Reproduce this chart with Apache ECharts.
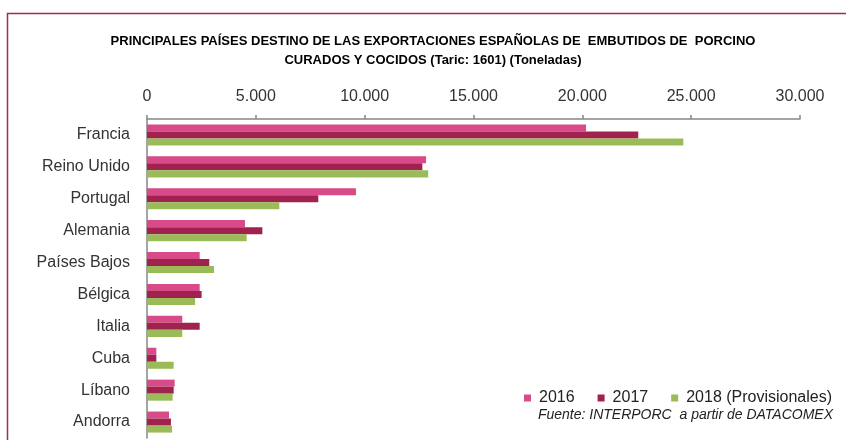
<!DOCTYPE html>
<html>
<head>
<meta charset="utf-8">
<script src="https://cdn.jsdelivr.net/npm/echarts@6/dist/echarts.min.js"></script>
<style>
  html, body { margin: 0; padding: 0; background: #fff; }
  #chart { width: 846px; height: 440px; }
</style>
</head>
<body>
<div id="chart"></div>
<script>
// Export destinations (tonnes), top to bottom
const countries = ['Francia', 'Reino Unido', 'Portugal', 'Alemania', 'Países Bajos', 'Bélgica', 'Italia', 'Cuba', 'Líbano', 'Andorra'];
const years = ['2016', '2017', '2018 (Provisionales)'];
const values2016 = [20170, 12820, 9600, 4500, 2420, 2420, 1620, 430, 1270, 1010];
const values2017 = [22570, 12650, 7870, 5300, 2860, 2510, 2420, 430, 1225, 1100];
const values2018 = [24640, 12920, 6080, 4580, 3080, 2210, 1620, 1225, 1180, 1150];
const colors = ['#D94A88', '#A0234F', '#9BBB59'];

const titleLines = [
  'PRINCIPALES PAÍSES DESTINO DE LAS EXPORTACIONES ESPAÑOLAS DE  EMBUTIDOS DE  PORCINO',
  'CURADOS Y COCIDOS (Taric: 1601) (Toneladas)'
];
const sourceText = 'Fuente: INTERPORC  a partir de DATACOMEX';

const fmt = v => String(v).replace(/\B(?=(\d{3})+(?!\d))/g, '.');
const font = '"Liberation Sans", Arial, sans-serif';

const chart = echarts.init(document.getElementById('chart'), null, { renderer: 'canvas' });

chart.setOption({
  animation: false,
  backgroundColor: '#fff',
  textStyle: { fontFamily: font },
  title: [
    {
      text: sourceText,
      right: 13,
      top: 408,
      padding: 0,
      textStyle: { fontSize: 14, fontStyle: 'italic', fontWeight: 'normal', color: '#222', fontFamily: font }
    }
  ],
  legend: {
    data: years,
    left: 519,
    top: 385,
    itemWidth: 7,
    itemHeight: 7,
    itemGap: 23,
    icon: 'rect',
    textStyle: { fontSize: 16, color: '#222', fontFamily: font, padding: [0, 0, 0, 3] }
  },
  grid: { left: 147, right: 46, top: 119, bottom: 2, containLabel: false },
  xAxis: {
    type: 'value',
    position: 'top',
    min: 0,
    max: 30000,
    interval: 5000,
    axisLine: { show: true, lineStyle: { color: '#868686', width: 1.5 } },
    axisTick: { show: true, length: 4, lineStyle: { color: '#868686', width: 1.5 } },
    axisLabel: { margin: 14, fontSize: 16, color: '#333', fontFamily: font, formatter: fmt },
    splitLine: { show: false }
  },
  yAxis: {
    type: 'category',
    data: countries,
    inverse: true,
    axisLine: { show: true, lineStyle: { color: '#868686', width: 1.5 } },
    axisTick: { show: false },
    axisLabel: { margin: 17, fontSize: 16, color: '#333', fontFamily: font }
  },
  series: [
    { name: years[0], type: 'bar', data: values2016, itemStyle: { color: colors[0] }, barGap: '0%', barCategoryGap: '34%' },
    { name: years[1], type: 'bar', data: values2017, itemStyle: { color: colors[1] }, barGap: '0%', barCategoryGap: '34%' },
    { name: years[2], type: 'bar', data: values2018, itemStyle: { color: colors[2] }, barGap: '0%', barCategoryGap: '34%' }
  ],
  graphic: [
    {
      type: 'rect',
      z: -1,
      silent: true,
      shape: { x: 7.5, y: 13.5, width: 900, height: 500 },
      style: { fill: 'none', stroke: '#A3285C', lineWidth: 1.5 }
    },
    {
      type: 'text',
      silent: true,
      x: 433,
      y: 41,
      style: { text: titleLines[0], fill: '#000', font: 'bold 13px ' + font, textAlign: 'center', textVerticalAlign: 'middle' }
    },
    {
      type: 'text',
      silent: true,
      x: 433,
      y: 60,
      style: { text: titleLines[1], fill: '#000', font: 'bold 13px ' + font, textAlign: 'center', textVerticalAlign: 'middle' }
    }
  ]
});
</script>
</body>
</html>
